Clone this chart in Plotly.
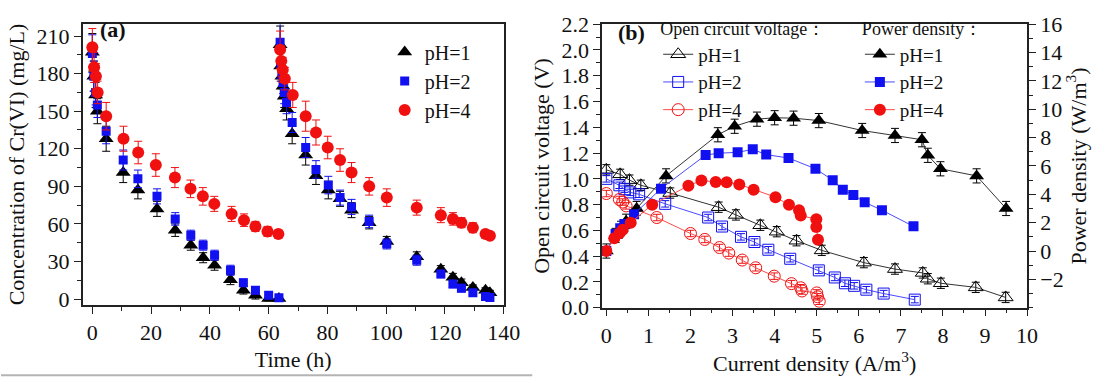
import plotly.graph_objects as go

W, H = 1112, 390
FONT = "Liberation Serif, Times New Roman, DejaVu Serif, serif"

# ---------------- Panel (a) data ----------------
t_ph1 = [0, 0.5, 1.1, 1.7, 4.7, 10.5, 15.5, 22, 28.2, 33.5, 37.7, 41.6, 47, 51.4, 55.5, 60, 63.5,
         63.9, 64.1, 64.5, 64.9, 65.3, 66.1, 68, 72.6, 76.1, 80.3, 84.3, 88.2, 94.2, 100.2, 110.4,
         118.6, 122.7, 125.6, 129.5, 133.8, 135.3]
c_ph1 = [197, 178, 163, 150, 128, 101, 87, 72, 55, 43, 33, 27, 15.5, 7, 3, 0.5, 0.5,
         203, 186, 178, 170, 162, 152, 132, 115, 98.5, 87, 80, 71, 61, 46, 33.7,
         23.7, 17.5, 13, 9.3, 7, 5]
e_ph1 = [15, 12, 10, 10, 10, 8, 7, 6, 5, 4, 4, 4, 4, 3, 3, 2, 2,
         15, 12, 10, 9, 9, 9, 8, 8, 7, 7, 6, 6, 5, 4, 4, 3, 3, 3, 2, 2, 2]

t_ph2 = t_ph1
c_ph2 = [196, 178, 165, 155, 134, 111, 96, 82, 64, 51, 43, 35, 23, 13, 7, 3, 1,
         205, 188, 180, 173, 165, 157, 141, 121, 103.5, 91, 81, 73.6, 62, 44, 31,
         20, 12, 8.7, 5, 2, 1.3]
e_ph2 = [15, 12, 10, 10, 10, 8, 7, 6, 5, 4, 4, 4, 4, 3, 3, 2, 2,
         15, 12, 10, 9, 9, 9, 8, 8, 7, 7, 6, 6, 5, 4, 4, 3, 3, 3, 2, 2, 2]

t_ph4 = [0, 0.6, 1.2, 1.8, 4.7, 10.6, 15.6, 21.6, 28.1, 33.4, 37.6, 41.5, 47.4, 51.6, 55.5, 59.6, 63.3,
         63.9, 64.3, 64.8, 65.5, 68.2, 72.6, 76.1, 80.1, 84.3, 88.2, 94.2, 100.2, 110.4, 118.6,
         122.7, 125.6, 129.5, 133.8, 135.3]
c_ph4 = [201, 185, 178, 165, 146, 128, 117, 107, 97, 88, 82, 76, 68, 63, 58, 54, 52,
         199, 190, 183, 176, 163, 146, 133, 121, 111, 101, 90, 81, 73, 67,
         64, 61, 57, 52, 50.5]
e_ph4 = [15, 12, 10, 9, 11, 10, 9, 9, 8, 7, 7, 6, 6, 5, 4, 4, 3,
         15, 12, 10, 9, 10, 12, 10, 9, 9, 8, 7, 7, 6, 6, 5, 4, 4, 3, 2]

# ---------------- Panel (b) data ----------------
# open circuit voltage (left axis)
v1_x = [0, 0.33, 0.55, 0.82, 1.52, 2.67, 3.08, 3.66, 4.05, 4.52, 5.12, 6.12, 6.86, 7.52, 7.64, 7.95, 8.78, 9.49]
v1_y = [1.07, 1.035, 0.99, 0.95, 0.89, 0.78, 0.72, 0.64, 0.59, 0.52, 0.445, 0.35, 0.30, 0.27, 0.225, 0.19, 0.158, 0.08]
v2_x = [0, 0.31, 0.43, 0.57, 0.78, 1.4, 2.42, 2.75, 3.2, 3.52, 3.85, 4.37, 5.05, 5.43, 5.67, 5.89, 6.18, 6.59, 7.33]
v2_y = [1.0, 0.95, 0.92, 0.895, 0.88, 0.806, 0.70, 0.63, 0.55, 0.51, 0.45, 0.38, 0.29, 0.235, 0.19, 0.17, 0.14, 0.11, 0.063]
v4_x = [0, 0.31, 0.39, 0.47, 1.2, 2.0, 2.34, 2.69, 2.91, 3.23, 3.55, 3.99, 4.4, 4.62, 4.65, 5.0, 5.02, 5.06]
v4_y = [0.886, 0.84, 0.82, 0.79, 0.70, 0.576, 0.53, 0.467, 0.424, 0.37, 0.31, 0.245, 0.187, 0.155, 0.13, 0.115, 0.085, 0.05]

# power density (right axis)
p1_x = [0, 0.22, 0.35, 0.47, 0.72, 1.42, 2.65, 3.05, 3.58, 4.0, 4.45, 5.05, 6.08, 6.86, 7.5, 7.64, 7.94, 8.8, 9.5]
p1_y = [0, 1.1, 1.6, 2.1, 3.0, 5.3, 8.2, 8.8, 9.3, 9.4, 9.37, 9.2, 8.5, 8.15, 7.85, 6.75, 5.8, 5.3, 3.0]
p2_x = [0, 0.22, 0.33, 0.43, 0.66, 1.3, 2.36, 2.67, 3.12, 3.48, 3.8, 4.33, 4.97, 5.38, 5.62, 5.87, 6.14, 6.55, 7.3]
p2_y = [0, 1.2, 1.6, 1.9, 2.6, 4.4, 6.77, 6.9, 6.96, 7.17, 6.8, 6.56, 5.8, 5.0, 4.33, 3.96, 3.44, 2.88, 1.74]
p4_x = [0, 0.19, 0.31, 0.39, 0.58, 1.09, 1.95, 2.26, 2.6, 2.86, 3.16, 3.5, 4.02, 4.34, 4.58, 4.62, 4.99, 4.99, 5.03]
p4_y = [0, 0.9, 1.25, 1.5, 2.0, 3.27, 4.6, 4.98, 4.87, 4.85, 4.7, 4.33, 3.8, 3.26, 2.88, 2.5, 2.25, 1.7, 0.8]

labels = ["pH=1", "pH=2", "pH=4"]
colors = ["#000000", "#1010f0", "#f01010"]
line_colors = ["#333333", "#4a4aff", "#ff4a4a"]

fig = go.Figure()

# ---- panel (a) traces
for t, c, e, lab, col, sym, sz in [
    (t_ph1, c_ph1, e_ph1, labels[0], colors[0], "triangle-up", 13),
    (t_ph2, c_ph2, e_ph2, labels[1], colors[1], "square", 9),
    (t_ph4, c_ph4, e_ph4, labels[2], colors[2], "circle", 12),
]:
    fig.add_trace(go.Scatter(
        x=t, y=c, mode="markers", name=lab, legend="legend",
        marker=dict(symbol=sym, size=sz, color=col, line=dict(width=0)),
        error_y=dict(type="data", array=e, color=col, thickness=1, width=4),
        xaxis="x", yaxis="y"))

# ---- panel (b) OCV traces (left axis)
for x, y, lab, col, lcol, sym, sz, err in [
    (v1_x, v1_y, labels[0], colors[0], line_colors[0], "triangle-up-open", 13, 0.04),
    (v2_x, v2_y, labels[1], colors[1], line_colors[1], "square-open", 11, 0.025),
    (v4_x, v4_y, labels[2], colors[2], line_colors[2], "circle-open", 12, 0.025),
]:
    fig.add_trace(go.Scatter(
        x=x, y=y, mode="lines+markers", name=lab, legend="legend2",
        line=dict(color=lcol, width=1),
        marker=dict(symbol=sym, size=sz, color=col, line=dict(width=1, color=col)),
        error_y=dict(type="constant", value=err, color=col, thickness=1, width=4),
        xaxis="x2", yaxis="y2"))

# ---- panel (b) power traces (right axis)
for x, y, lab, col, lcol, sym, sz, err in [
    (p1_x, p1_y, labels[0], colors[0], line_colors[0], "triangle-up", 13, 0.5),
    (p2_x, p2_y, labels[1], colors[1], line_colors[1], "square", 10, 0.12),
    (p4_x, p4_y, labels[2], colors[2], line_colors[2], "circle", 12, 0.1),
]:
    fig.add_trace(go.Scatter(
        x=x, y=y, mode="lines+markers", name=lab, legend="legend3",
        line=dict(color=lcol, width=1),
        marker=dict(symbol=sym, size=sz, color=col, line=dict(width=0)),
        error_y=dict(type="constant", value=err, color=col, thickness=1, width=4),
        xaxis="x2", yaxis="y3"))

AX = "#222222"
tickfont = dict(family=FONT, size=22, color="#111")
titlefont = dict(family=FONT, size=22, color="#111")

def px_x(p):
    return p / W

def px_y(p):
    return 1 - p / H

common = dict(showline=True, linecolor=AX, linewidth=1.5, ticks="outside", ticklen=7,
              tickwidth=1.2, tickcolor=AX, showgrid=False, zeroline=False, tickfont=tickfont)

fig.update_layout(
    width=W, height=H, margin=dict(l=0, r=0, t=0, b=0),
    paper_bgcolor="white", plot_bgcolor="white",
    font=dict(family=FONT, color="#111"),
    xaxis=dict(domain=[px_x(83), px_x(511)], range=[-3.3, 140], tickvals=[0, 20, 40, 60, 80, 100, 120, 140],
               mirror=True, anchor="y",
               minor=dict(ticks="outside", ticklen=4, dtick=10, tickcolor=AX),
               title=dict(text="Time (h)", font=titlefont, standoff=8), **common),
    yaxis=dict(domain=[px_y(313), px_y(13)], range=[-4.7, 219.5], tickvals=list(range(0, 211, 30)),
               mirror=True, anchor="x",
               minor=dict(ticks="outside", ticklen=4, dtick=15, tickcolor=AX),
               title=dict(text="Concentration of Cr(VI) (mg/L)", font=titlefont, standoff=6), **common),
    xaxis2=dict(domain=[px_x(611), px_x(1043)], range=[-0.1, 10], tickvals=list(range(0, 11)),
                mirror=True, anchor="y2",
                minor=dict(ticks="outside", ticklen=4, dtick=0.5, tickcolor=AX),
                title=dict(text="Current density (A/m<sup>3</sup>)", font=titlefont, standoff=8), **common),
    yaxis2=dict(domain=[px_y(316), px_y(13)], range=[0, 2.2], tickvals=[round(0.2 * i, 1) for i in range(12)],
                tickformat=".1f", anchor="x2",
                minor=dict(ticks="outside", ticklen=4, dtick=0.1, tickcolor=AX),
                title=dict(text="Open circuit voltage (V)", font=titlefont, standoff=6), **common),
    yaxis3=dict(range=[-4, 16], tickvals=list(range(-2, 17, 2)), overlaying="y2", side="right", anchor="x2",
                minor=dict(ticks="outside", ticklen=4, dtick=1, tickcolor=AX),
                title=dict(text="Power density (W/m<sup>3</sup>)", font=titlefont, standoff=6), **common),
    legend=dict(x=px_x(390), y=px_y(22), xanchor="left", yanchor="top", bgcolor="rgba(0,0,0,0)",
                font=dict(family=FONT, size=20, color="#111"), tracegroupgap=0),
    legend2=dict(x=px_x(668), y=px_y(0), xanchor="left", yanchor="top", bgcolor="rgba(0,0,0,0)",
                 font=dict(family=FONT, size=19, color="#111"),
                 title=dict(text="Open circuit voltage：", font=dict(family=FONT, size=18, color="#111"))),
    legend3=dict(x=px_x(873), y=px_y(0), xanchor="left", yanchor="top", bgcolor="rgba(0,0,0,0)",
                 font=dict(family=FONT, size=19, color="#111"),
                 title=dict(text="Power density：", font=dict(family=FONT, size=18, color="#111"))),
    showlegend=True,
)

fig.add_annotation(text="<b>(a)</b>", x=px_x(99), y=px_y(19), xref="paper", yref="paper",
                   xanchor="left", yanchor="middle", showarrow=False,
                   font=dict(family=FONT, size=22, color="#111"))
fig.add_annotation(text="<b>(b)</b>", x=px_x(625), y=px_y(22), xref="paper", yref="paper",
                   xanchor="left", yanchor="middle", showarrow=False,
                   font=dict(family=FONT, size=22, color="#111"))

fig.add_shape(type="line", xref="paper", yref="paper", x0=0, x1=px_x(540), y0=px_y(388), y1=px_y(388),
              line=dict(color="#b4b4b4", width=2))

fig.write_html("out.html")
